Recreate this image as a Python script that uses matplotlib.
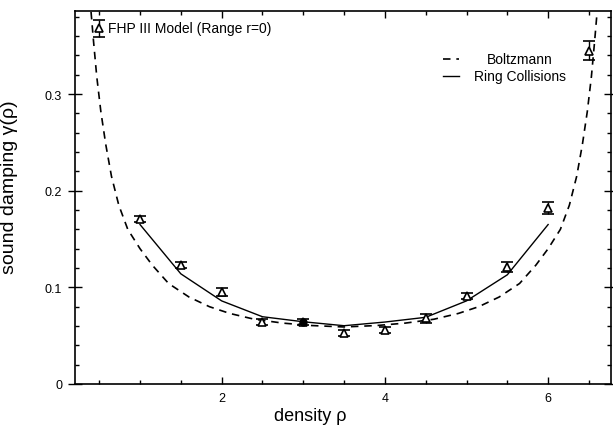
import numpy as np
import matplotlib
matplotlib.use("Agg")
import matplotlib.pyplot as plt
from matplotlib.lines import Line2D
from matplotlib.ticker import MultipleLocator, FixedLocator

plt.rcParams['font.family'] = ['Liberation Sans', 'DejaVu Sans']

# simulation points (FHP III, range r=0)
sim_x = [0.5, 1.0, 1.5, 2.0, 2.5, 3.0, 3.5, 4.0, 4.5, 5.0, 5.5, 6.0, 6.5]
sim_y = [0.368, 0.171, 0.123, 0.095, 0.064, 0.064, 0.053, 0.056, 0.068, 0.091, 0.121, 0.182, 0.345]
sim_err = [0.009, 0.003, 0.003, 0.004, 0.003, 0.003, 0.003, 0.003, 0.0045, 0.003, 0.005, 0.006, 0.0095]

# extra filled point
dot_x = [3.0]
dot_y = [0.0638]

# ring collision theory
ring_x = [1.0, 1.5, 2.0, 2.5, 3.0, 3.5, 4.0, 4.5, 5.0, 5.5, 6.0]
ring_y = [0.165, 0.114, 0.086, 0.0696, 0.0644, 0.0603, 0.0641, 0.069, 0.086, 0.113, 0.165]

# boltzmann theory
boltz_x = [0.40, 0.43, 0.47, 0.52, 0.58, 0.65, 0.74, 0.85, 1.0, 1.15, 1.35, 1.6, 1.85,
           2.1, 2.4, 2.75, 3.1, 3.5, 3.9, 4.25, 4.6, 4.9, 5.15, 5.4, 5.65, 5.85, 6.0,
           6.15, 6.26, 6.35, 6.42, 6.48, 6.53, 6.57, 6.60]
boltz_y = [0.385, 0.355, 0.318, 0.282, 0.248, 0.215, 0.185, 0.160, 0.140, 0.123, 0.104, 0.090, 0.080,
           0.073, 0.067, 0.063, 0.0605, 0.059, 0.0605, 0.063, 0.067, 0.073, 0.080, 0.090, 0.104, 0.123, 0.140,
           0.160, 0.185, 0.215, 0.248, 0.282, 0.318, 0.355, 0.385]

fig = plt.figure(figsize=(6.13, 4.27), dpi=100)
ax = fig.add_axes([0.1219, 0.0984, 0.8748, 0.8735])

ax.plot(boltz_x, boltz_y, color='black', lw=1.2, ls=(0, (4.5, 3.5)))
ax.plot(ring_x, ring_y, color='black', lw=1.0)
ax.errorbar(sim_x, sim_y, yerr=sim_err, fmt='^', ms=6, mfc='white', mec='black',
            mew=1.2, ecolor='black', elinewidth=1.0, capsize=4, capthick=1.2, zorder=3)
ax.plot(dot_x, dot_y, 'o', color='black', ms=5, zorder=4)

ax.annotate("FHP III Model (Range r=0)", (sim_x[0], sim_y[0]), xytext=(6, 0),
            textcoords='offset points', va='center', ha='left', fontsize=10)

# legend drawn by hand so the labels are centred
ax.add_line(Line2D([0.687, 0.717], [0.872, 0.872], transform=ax.transAxes,
                   color='black', lw=1.2, ls=(0, (4.5, 3.5))))
ax.add_line(Line2D([0.687, 0.717], [0.826, 0.826], transform=ax.transAxes,
                   color='black', lw=1.0))
ax.text(0.830, 0.872, "Boltzmann", transform=ax.transAxes, ha='center', va='center', fontsize=10)
ax.text(0.830, 0.826, "Ring Collisions", transform=ax.transAxes, ha='center', va='center', fontsize=10)

ax.set_xlim(0.2, 6.77)
ax.set_ylim(0, 0.386)
ax.xaxis.set_major_locator(FixedLocator([2, 4, 6]))
ax.xaxis.set_minor_locator(MultipleLocator(0.5))
ax.yaxis.set_major_locator(FixedLocator([0, 0.1, 0.2, 0.3]))
ax.yaxis.set_minor_locator(MultipleLocator(0.02))
ax.set_yticklabels(['0', '0.1', '0.2', '0.3'])

ax.tick_params(axis='x', which='both', direction='in', top=True, labelsize=9, pad=6)
ax.tick_params(axis='x', which='major', length=5, width=1.0)
ax.tick_params(axis='x', which='minor', length=3, width=1.0)
ax.tick_params(axis='y', which='both', right=True, labelsize=9)
ax.tick_params(axis='y', which='major', direction='inout', length=10, width=1.0, pad=4)
ax.tick_params(axis='y', which='minor', direction='in', length=3, width=1.0)
for s in ax.spines.values():
    s.set_linewidth(1.2)

ax.set_xlabel("density ρ", fontsize=13)
ax.xaxis.set_label_coords(0.44, -0.062)
ax.set_ylabel("sound damping γ(ρ)", fontsize=14)
ax.yaxis.set_label_coords(-0.105, 0.53)

fig.savefig("out.png", dpi=100)
